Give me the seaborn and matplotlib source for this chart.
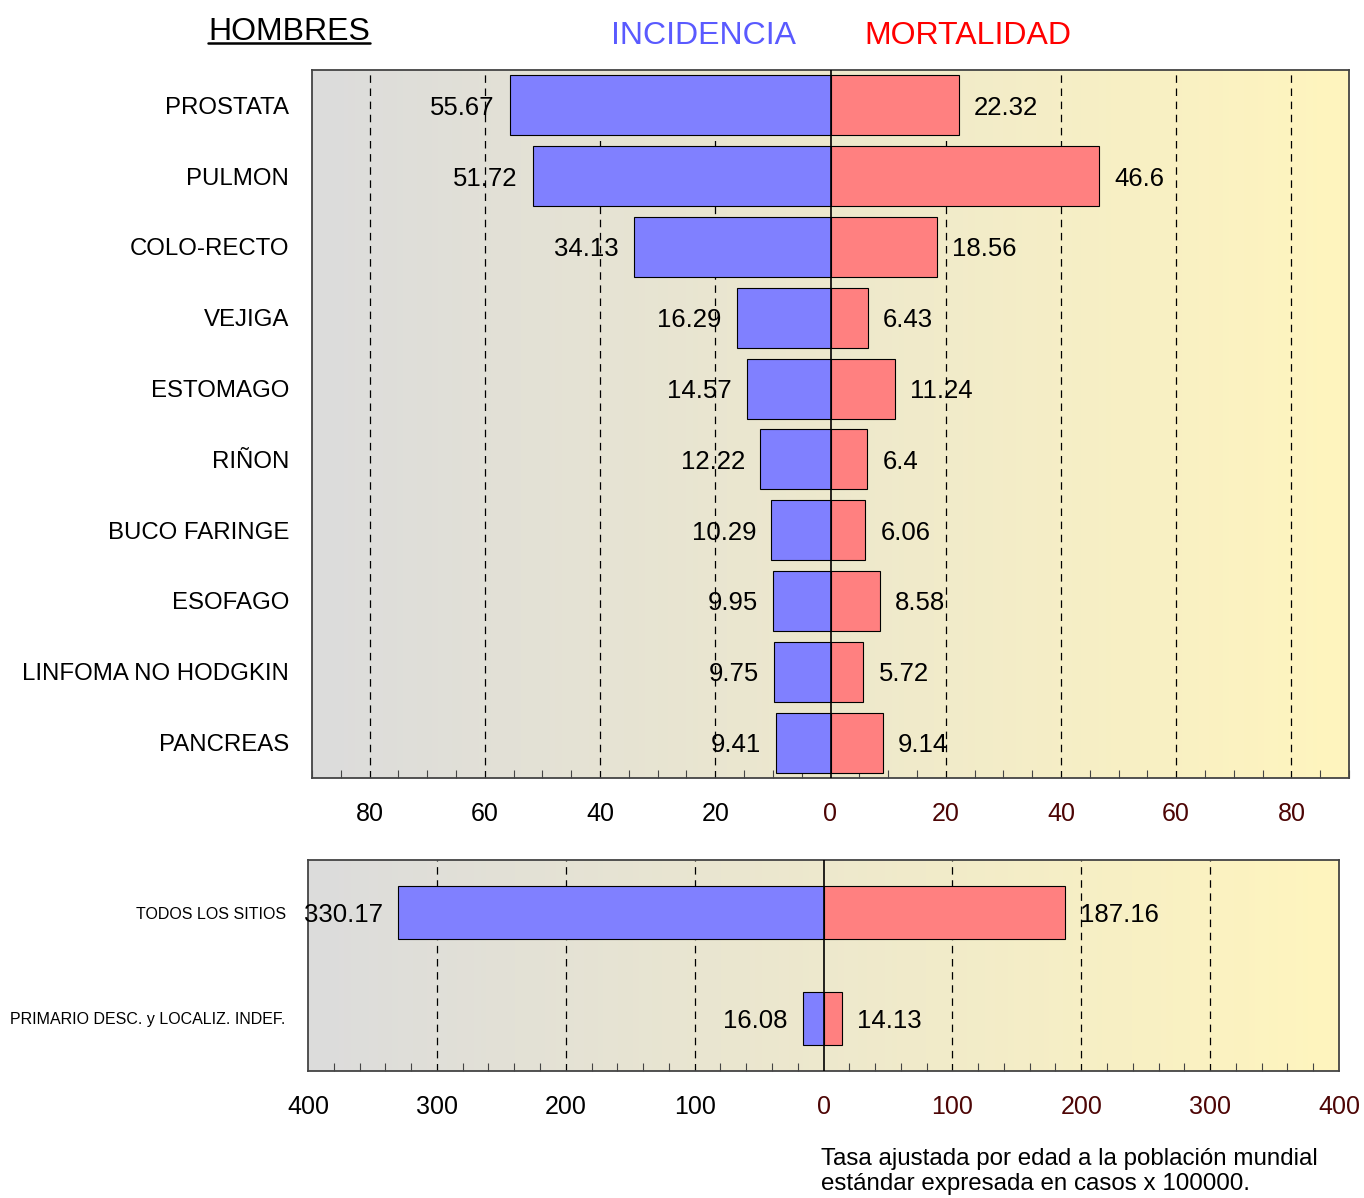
import numpy as np
import pandas as pd
import seaborn as sns
import matplotlib.pyplot as plt
from matplotlib.ticker import MultipleLocator
from matplotlib.lines import Line2D

# datos: tasas ajustadas, hombres
sitios = ['PROSTATA', 'PULMON', 'COLO-RECTO', 'VEJIGA', 'ESTOMAGO', 'RIÑON',
          'BUCO FARINGE', 'ESOFAGO', 'LINFOMA NO HODGKIN', 'PANCREAS']
incidencia = [55.67, 51.72, 34.13, 16.29, 14.57, 12.22, 10.29, 9.95, 9.75, 9.41]
mortalidad = [22.32, 46.6, 18.56, 6.43, 11.24, 6.4, 6.06, 8.58, 5.72, 9.14]

sitios_tot = ['TODOS LOS SITIOS', 'PRIMARIO DESC. y LOCALIZ. INDEF.']
incidencia_tot = [330.17, 16.08]
mortalidad_tot = [187.16, 14.13]

ticks_top = [-80, -60, -40, -20, 0, 20, 40, 60, 80]
ticks_bot = [-400, -300, -200, -100, 0, 100, 200, 300, 400]

sns.set_style('white')
plt.rcParams['font.family'] = ['Liberation Sans', 'DejaVu Sans']
plt.rcParams['text.color'] = 'black'
plt.rcParams['xtick.color'] = 'black'
plt.rcParams['ytick.color'] = 'black'

AZUL = '#8080ff'
ROJO = '#ff8080'
GRANATE = '#4d0505'
SPINE = '#444444'

fig = plt.figure(figsize=(13.64, 11.98), dpi=100)
ax1 = fig.add_axes([312/1364, 1-778/1198, (1349-312)/1364, (778-70)/1198])
ax2 = fig.add_axes([308/1364, 1-1071/1198, (1339-308)/1364, (1071-860)/1198])

# degradado gris -> amarillo
grad = np.linspace(0, 1, 256)
c0 = np.array([220, 220, 220]) / 255
c1 = np.array([255, 245, 190]) / 255
img = (c0[None, :] * (1 - grad[:, None]) + c1[None, :] * grad[:, None])[None, :, :]


def panel(ax, names, inc, mort, lim, ticks, minor, width, cat_fs, pad):
    df = pd.DataFrame({'sitio': names, 'inc': [-v for v in inc], 'mort': mort})
    ax.imshow(img, extent=(0, 1, 0, 1), transform=ax.transAxes,
              aspect='auto', zorder=0, interpolation='bilinear')
    for t in ticks:
        if t != 0 and abs(t) != lim:
            ax.axvline(t, color='black', lw=0.9, ls=(0, (6, 4.5)), zorder=0.5)
    sns.barplot(data=df, x='inc', y='sitio', color=AZUL, saturation=1,
                width=width, edgecolor='black', linewidth=0.8, orient='h',
                ax=ax, zorder=2)
    sns.barplot(data=df, x='mort', y='sitio', color=ROJO, saturation=1,
                width=width, edgecolor='black', linewidth=0.8, orient='h',
                ax=ax, zorder=2)
    ax.axvline(0, color='black', lw=1.2, zorder=3)
    for i, (a, b) in enumerate(zip(inc, mort)):
        ax.annotate(f'{a:g}', xy=(-a, i), xytext=(-15, 0), textcoords='offset pixels',
                    ha='right', va='center_baseline', fontsize=18.5, zorder=4)
        ax.annotate(f'{b:g}', xy=(b, i), xytext=(15, 0), textcoords='offset pixels',
                    ha='left', va='center_baseline', fontsize=18.5, zorder=4)
    ax.set_xlim(-lim, lim)
    ax.set_ylim(len(names) - 0.5, -0.5)
    ax.set_xlabel('')
    ax.set_ylabel('')
    ax.set_xticks(ticks)
    ax.set_xticklabels([str(abs(t)) for t in ticks], fontsize=18)
    for t, lab in zip(ticks, ax.get_xticklabels()):
        lab.set_color('black' if t < 0 else GRANATE)
    ax.set_yticks(range(len(names)))
    ax.set_yticklabels(names, fontsize=cat_fs, color='black')
    ax.xaxis.set_minor_locator(MultipleLocator(minor))
    ax.tick_params(axis='x', which='major', length=0, pad=17)
    ax.tick_params(axis='x', which='minor', direction='in', length=6,
                   width=0.8, color=SPINE, bottom=True, top=False)
    ax.tick_params(axis='y', length=0, pad=pad)
    for s in ax.spines.values():
        s.set_visible(True)
        s.set_color(SPINE)
        s.set_linewidth(1.3)


panel(ax1, sitios, incidencia, mortalidad, 90, ticks_top, 5, 0.85, 17.3, 16.5)
panel(ax2, sitios_tot, incidencia_tot, mortalidad_tot, 400, ticks_bot, 20, 0.5, 11.5, 16)

# titulos
t = fig.text(289/1364, 1-40/1198, 'HOMBRES', ha='center', va='baseline', fontsize=23)
fig.text(704/1364, 1-44/1198, 'INCIDENCIA', ha='center', va='baseline',
         fontsize=23, color='#5a5aff')
fig.text(968/1364, 1-44/1198, 'MORTALIDAD', ha='center', va='baseline',
         fontsize=23, color='#ff0000')
fig.text(821/1364, 1-1148/1198,
         'Tasa ajustada por edad a la población mundial\nestándar expresada en casos x 100000.',
         ha='left', va='top', fontsize=17.4, linespacing=1.2)

# subrayado de HOMBRES
fig.canvas.draw()
bb = t.get_window_extent().transformed(fig.transFigure.inverted())
fig.add_artist(Line2D([bb.x0, bb.x1], [1-43/1198, 1-43/1198],
                      transform=fig.transFigure, color='black', lw=1.8))

fig.savefig('out.png', dpi=100)
